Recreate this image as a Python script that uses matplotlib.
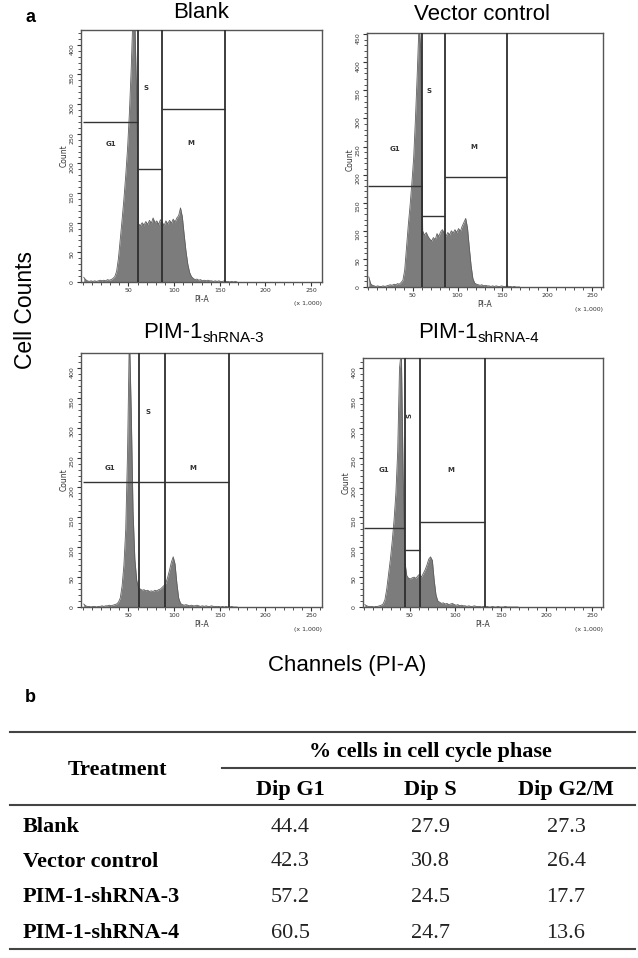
import numpy as np
import matplotlib
matplotlib.use('Agg')
import matplotlib.pyplot as plt
from matplotlib.lines import Line2D
from matplotlib.ticker import MultipleLocator

# histogram counts, one value per 2k-channel bin starting at channel 0
blank_counts = [8, 4, 2, 1, 2, 1, 2, 1, 2, 3, 2, 3, 2, 4, 3, 4, 6, 9, 18, 40,
                72, 105, 140, 180, 225, 285, 360, 455, 440, 310, 98, 95, 100, 96, 102, 97, 104, 99, 108, 100,
                103, 97, 105, 101, 95, 103, 98, 104, 99, 106, 101, 108, 112, 125, 110, 80, 52, 30, 16, 9,
                6, 4, 5, 3, 4, 2, 3, 2, 3, 2, 2, 1, 2, 1, 2, 1, 1, 2, 1, 1,
                0, 1, 0, 1, 0]
vector_counts = [18, 6, 3, 2, 1, 2, 1, 1, 2, 1, 2, 3, 4, 3, 5, 4, 6, 5, 8, 12,
                 30, 70, 110, 145, 185, 230, 300, 380, 470, 420, 100, 92, 97, 90, 85, 82, 88, 84, 95, 90,
                 98, 102, 96, 90, 97, 93, 100, 96, 102, 97, 104, 99, 108, 115, 122, 105, 70, 38, 15, 7,
                 5, 4, 3, 4, 2, 3, 2, 2, 1, 2, 1, 2, 1, 1, 2, 1, 1, 2, 1, 1,
                 0, 1, 0, 0, 0]
sh3_counts = [5, 2, 1, 1, 0, 1, 1, 0, 1, 1, 2, 1, 2, 2, 3, 2, 3, 4, 5, 8,
              15, 35, 70, 130, 260, 460, 330, 160, 80, 45, 32, 30, 28, 29, 27, 28, 26, 27, 26, 28,
              27, 29, 30, 33, 36, 40, 50, 62, 75, 84, 72, 40, 15, 6, 4, 3, 4, 3, 2, 3,
              2, 2, 3, 2, 1, 2, 1, 2, 1, 1, 2, 1, 1, 1, 1, 0, 1, 0, 1, 0,
              0, 1, 0, 0, 0]
sh4_counts = [4, 2, 1, 1, 1, 0, 1, 1, 2, 3, 5, 12, 30, 55, 80, 110, 145, 190, 260, 400,
              430, 220, 75, 52, 48, 47, 49, 50, 48, 52, 55, 50, 56, 62, 70, 80, 84, 78, 45, 20,
              10, 8, 6, 7, 5, 6, 4, 5, 6, 4, 3, 4, 2, 3, 2, 2, 1, 2, 1, 1,
              2, 1, 1, 1, 0, 1, 0, 1, 0, 0, 1, 0, 0, 1, 0, 0, 0, 1, 0, 0,
              0, 0, 0, 0, 0]

# gates: right edges of G1, S, M (x 1,000) and the height of each gate bar
blank_gate_x = [60.5, 86.5, 156]
blank_gate_y = [270, 191, 292]
vector_gate_x = [60, 86, 154.5]
vector_gate_y = [179, 126, 195]
sh3_gate_x = [62, 90, 160]
sh3_gate_y = [209, 209, 209]
sh4_gate_x = [45, 62, 133]
sh4_gate_y = [132, 95, 142]

gate_names = ['G1', 'S', 'M']

# table
treatments = ['Blank', 'Vector control', 'PIM-1-shRNA-3', 'PIM-1-shRNA-4']
phases = ['Dip G1', 'Dip S', 'Dip G2/M']
dip_g1 = [44.4, 42.3, 57.2, 60.5]
dip_s = [27.9, 30.8, 24.5, 24.7]
dip_g2m = [27.3, 26.4, 17.7, 13.6]

W, H = 638, 958
fig = plt.figure(figsize=(W / 100, H / 100), dpi=100)
SANS = 'Liberation Sans'
SERIF = 'Liberation Serif'


def fx(x):
    return x / W


def fy(y):
    return 1 - y / H


panels = [
    # counts, gate x, gate y, box px (l, t, r, b), xmin, ymax, label x, label y, title, title pos
    (blank_counts, blank_gate_x, blank_gate_y, (81, 30, 322, 282), -2, 425,
     [31, 69, 118], [233, 328, 235], ('Blank', None), (201, 12)),
    (vector_counts, vector_gate_x, vector_gate_y, (367, 33, 603, 287), -1, 452,
     [30, 68, 118], [246, 349, 250], ('Vector control', None), (482, 14)),
    (sh3_counts, sh3_gate_x, sh3_gate_y, (81, 353, 322, 607), -2, 425,
     [30, 71, 121], [233, 327, 233], ('PIM-1', 'shRNA-3'), (203, 332)),
    (sh4_counts, sh4_gate_x, sh4_gate_y, (363, 358, 603, 607), -1, 417,
     [22, 50, 95], [229, 321, 229], ('PIM-1', 'shRNA-4'), (478, 332)),
]

for counts, gx, gy, box, xmin, ymax, lx, ly, title, tpos in panels:
    l, t, r, b = box
    ax = fig.add_axes([fx(l), fy(b), (r - l) / W, (b - t) / H])
    centers = np.arange(len(counts)) * 2.0 + 1
    ax.fill_between(centers, counts, 0, color='#7c7c7c', lw=0, zorder=1)
    ax.plot(centers, counts, color='#5e5e5e', lw=0.6, zorder=2)

    lefts = [0] + gx[:-1]
    ax.hlines(gy, lefts, gx, color='#333333', lw=1.0, zorder=3)
    ax.vlines(gx, 0, ymax, color='#2e2e2e', lw=1.3, zorder=3)
    for i, name in enumerate(gate_names):
        rot = 90 if (name == 'S' and gx[1] - gx[0] < 20) else 0
        ax.text(lx[i], ly[i], name, fontsize=5, fontweight='bold', color='#333333',
                ha='center', va='center', rotation=rot, family='DejaVu Sans')

    ax.set_xlim(xmin, 262)
    ax.set_ylim(0, ymax)
    ax.set_xticks([50, 100, 150, 200, 250])
    ax.xaxis.set_minor_locator(MultipleLocator(10))
    ax.yaxis.set_major_locator(MultipleLocator(50))
    ax.yaxis.set_minor_locator(MultipleLocator(10))
    ax.tick_params(which='major', length=3, width=0.8, labelsize=4.5, pad=1.5,
                   colors='#333333')
    ax.tick_params(which='minor', length=2, width=0.6, colors='#333333')
    ax.tick_params(axis='y', labelrotation=90)
    for s in ax.spines.values():
        s.set_color('#555555')
        s.set_linewidth(1.0)
    ax.set_ylabel('Count', fontsize=5.5, labelpad=1, color='#333333')
    ax.set_xlabel('PI-A', fontsize=5.5, labelpad=1, color='#333333')
    ax.annotate('(x 1,000)', xy=(1, 0), xycoords='axes fraction', xytext=(0, -22),
                textcoords='offset pixels', ha='right', va='center', fontsize=4.5,
                color='#333333')

    main, sub = title
    if sub is None:
        fig.text(fx(tpos[0]), fy(tpos[1]), main, fontsize=16, family=SANS,
                 ha='center', va='center')
    else:
        fig.text(fx(tpos[0]), fy(tpos[1]), main, fontsize=16, family=SANS,
                 ha='right', va='center')
        fig.text(fx(tpos[0]), fy(tpos[1] + 6), sub, fontsize=11, family=SANS,
                 ha='left', va='center')

fig.text(fx(30), fy(17), 'a', fontsize=13, fontweight='bold', family=SANS,
         ha='center', va='center')
fig.text(fx(30), fy(697), 'b', fontsize=13, fontweight='bold', family=SANS,
         ha='center', va='center')
fig.text(fx(25), fy(310), 'Cell Counts', fontsize=16.5, family=SANS, rotation=90,
         ha='center', va='center')
fig.text(fx(347), fy(665), 'Channels (PI-A)', fontsize=16, family=SANS,
         ha='center', va='center')


# table b
def rule(x0, x1, y):
    fig.add_artist(Line2D([fx(x0), fx(x1)], [fy(y), fy(y)], transform=fig.transFigure,
                          color='#444444', lw=1.5))


rule(10, 635, 732)
rule(222, 635, 768)
rule(10, 635, 805)
rule(10, 635, 949)

col_x = [290, 430, 566]
row_y = [827, 862, 897, 933]
tsize = 16
fig.text(fx(117), fy(770), 'Treatment', fontsize=tsize, fontweight='bold', family=SERIF,
         ha='center', va='center')
fig.text(fx(430), fy(752), '% cells in cell cycle phase', fontsize=tsize, fontweight='bold',
         family=SERIF, ha='center', va='center')
for x, p in zip(col_x, phases):
    fig.text(fx(x), fy(790), p, fontsize=tsize, fontweight='bold', family=SERIF,
             ha='center', va='center')
for i, name in enumerate(treatments):
    y = row_y[i]
    fig.text(fx(23), fy(y), name, fontsize=tsize, fontweight='bold', family=SERIF,
             ha='left', va='center')
    for x, v in zip(col_x, [dip_g1[i], dip_s[i], dip_g2m[i]]):
        fig.text(fx(x), fy(y), f'{v:.1f}', fontsize=tsize, family=SERIF,
                 ha='center', va='center', color='#222222')

fig.savefig('out.png', dpi=100)
